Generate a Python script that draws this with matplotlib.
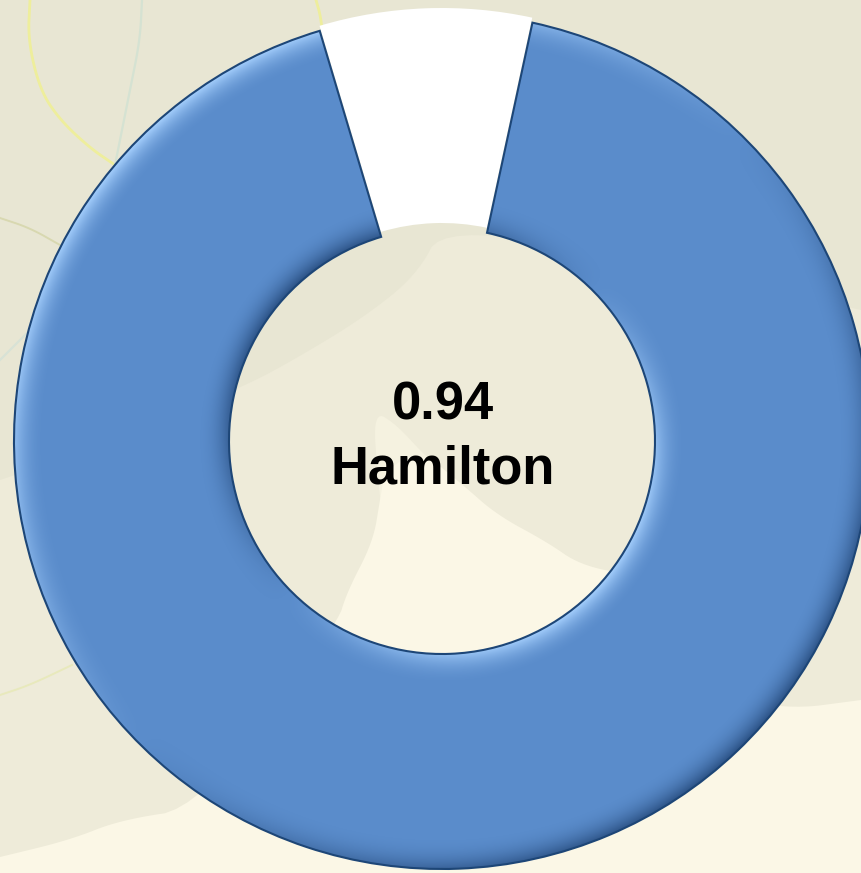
import numpy as np
import matplotlib
matplotlib.use("Agg")
import matplotlib.pyplot as plt
from matplotlib.patches import PathPatch, Polygon

# chart values
slice_labels = ["Hamilton", ""]
slice_values = [0.92, 0.08]
slice_colors = ["#5a8ccb", "#ffffff"]
center_value = "0.94"
center_name = "Hamilton"

W, H = 861, 873
CX, CY = 442, 873 - 441
R_OUT, R_IN = 428, 213
START = 77.8


def flip(points):
    # points read in image pixels, y going down
    return [(x, H - y) for x, y in points]


def soften(points, closed=False, rounds=3):
    # corner cutting, only for the hand traced background shapes
    pts = np.array(flip(points), dtype=float)
    for _ in range(rounds):
        nxt = np.roll(pts, -1, axis=0) if closed else pts[1:]
        cur = pts if closed else pts[:-1]
        cut = np.empty((len(cur) * 2, 2))
        cut[0::2] = 0.75 * cur + 0.25 * nxt
        cut[1::2] = 0.25 * cur + 0.75 * nxt
        pts = cut if closed else np.vstack([pts[0], cut, pts[-1]])
    return pts


fig = plt.figure(figsize=(W / 100, H / 100), dpi=100)
ax = fig.add_axes([0, 0, 1, 1])

# background map
ax.add_patch(Polygon([(0, 0), (W, 0), (W, H), (0, H)], fc="#eeebd9", ec="none", zorder=0))
dark_edge = soften([(861, 310), (640, 260), (443, 225), (417, 275), (363, 318),
                    (297, 358), (247, 385), (120, 440), (0, 480)])
dark_area = np.vstack([np.array(flip([(0, 0), (861, 0)])), dark_edge])
ax.add_patch(Polygon(dark_area, fc="#e8e6d3", ec="none", zorder=0))
cream_edge = soften([(0, 857), (70, 840), (120, 820), (200, 808), (337, 625), (347, 592),
                     (373, 542), (380, 500), (385, 470), (420, 450), (463, 485),
                     (497, 515), (547, 542), (580, 565), (630, 575), (700, 690), (785, 710),
                     (861, 700)])
cream_area = np.vstack([cream_edge, np.array(flip([(861, 873), (0, 873)]))])
ax.add_patch(Polygon(cream_area, fc="#fbf7e6", ec="none", zorder=0.2))
# faint tip of the peninsula behind the text
tip = soften([(373, 410), (397, 425), (425, 456), (463, 488), (470, 540), (385, 540), (378, 480)],
             closed=True)
ax.add_patch(Polygon(tip, fc="#f5f2e0", ec="none", zorder=0.1))

for pts, col, lw in [
    ([(30, 0), (28, 40), (40, 90), (60, 120), (90, 148), (115, 165)], "#eeee9c", 2.0),
    ([(142, 0), (140, 40), (130, 90), (120, 140), (115, 165)], "#d5e2d2", 1.6),
    ([(0, 218), (30, 228), (60, 245)], "#d8d8b0", 1.4),
    ([(0, 360), (30, 330)], "#d8e2d6", 1.6),
    ([(0, 695), (30, 685), (72, 665)], "#e8e9bc", 1.4),
    ([(316, 0), (320, 14), (322, 28)], "#eeee9c", 2.0),
]:
    xy = soften(pts)
    ax.plot(xy[:, 0], xy[:, 1], color=col, lw=lw, zorder=0.5)

wedges, _ = ax.pie(
    slice_values,
    colors=slice_colors,
    startangle=START,
    counterclock=False,
    radius=R_OUT,
    center=(CX, CY),
    explode=[0, 5],
    wedgeprops={"width": R_OUT - R_IN, "linewidth": 0},
)
ring = wedges[0]

# bevel shading on the ring, lit from upper left
yy, xx = np.mgrid[0:H, 0:W] + 0.5
dx, dy = xx - CX, yy - CY
rr = np.hypot(dx, dy)
nx, ny = dx / rr, dy / rr
lx, ly = -0.71, 0.71
tail = np.radians(START + 360 * slice_values[0] * -1)
head = np.radians(START)

d_out = R_OUT - rr
d_in = rr - R_IN
# cut faces of the ring, only on the side of the gap
d_head = -(dx * np.sin(head) - dy * np.cos(head))
d_tail = dx * np.sin(tail) - dy * np.cos(tail)
above = dy > 0
d_head = np.where((d_head >= 0) & above, d_head, 1e4)
d_tail = np.where((d_tail >= 0) & above, d_tail, 1e4)
dists = np.stack([d_out, d_in, d_head, d_tail])
widths = np.array([32.0, 32.0, 30.0, 30.0]).reshape(4, 1, 1)
slopes = np.stack([
    nx * lx + ny * ly,
    -(nx * lx + ny * ly),
    np.full_like(rr, -np.sin(head) * lx + np.cos(head) * ly),
    np.full_like(rr, np.sin(tail) * lx - np.cos(tail) * ly),
])
near = np.argmin(dists / widths, axis=0)
d_near = np.take_along_axis(dists / widths, near[None], 0)[0]
s_near = np.take_along_axis(slopes, near[None], 0)[0]
shade = s_near * np.clip(1 - d_near, 0, 1) ** 2.2

rgba = np.zeros((H, W, 4))
light = np.array(matplotlib.colors.to_rgb("#a8d2ff"))
dark = np.array(matplotlib.colors.to_rgb("#1f4272"))
rgba[..., :3] = np.where(shade[..., None] > 0, light, dark)
rgba[..., 3] = np.clip(np.where(shade > 0, shade, -0.8 * shade), 0, 1)
im = ax.imshow(rgba, extent=(0, W, 0, H), origin="lower", zorder=2, interpolation="bilinear")
im.set_clip_path(ring)

ax.add_patch(PathPatch(ring.get_path(), transform=ring.get_transform(), fc="none",
                       ec="#1d4677", lw=1.5, zorder=3))

ax.set_xlim(0, W)
ax.set_ylim(0, H)
ax.set_aspect("auto")
ax.axis("off")

font = {"family": "Liberation Sans", "weight": "bold", "size": 37.8, "color": "black",
        "ha": "center", "va": "baseline", "zorder": 4}
ax.text(443, H - 420, center_value, **font)
ax.text(443, H - 484, center_name, **font)

fig.savefig("out.png", dpi=100)
